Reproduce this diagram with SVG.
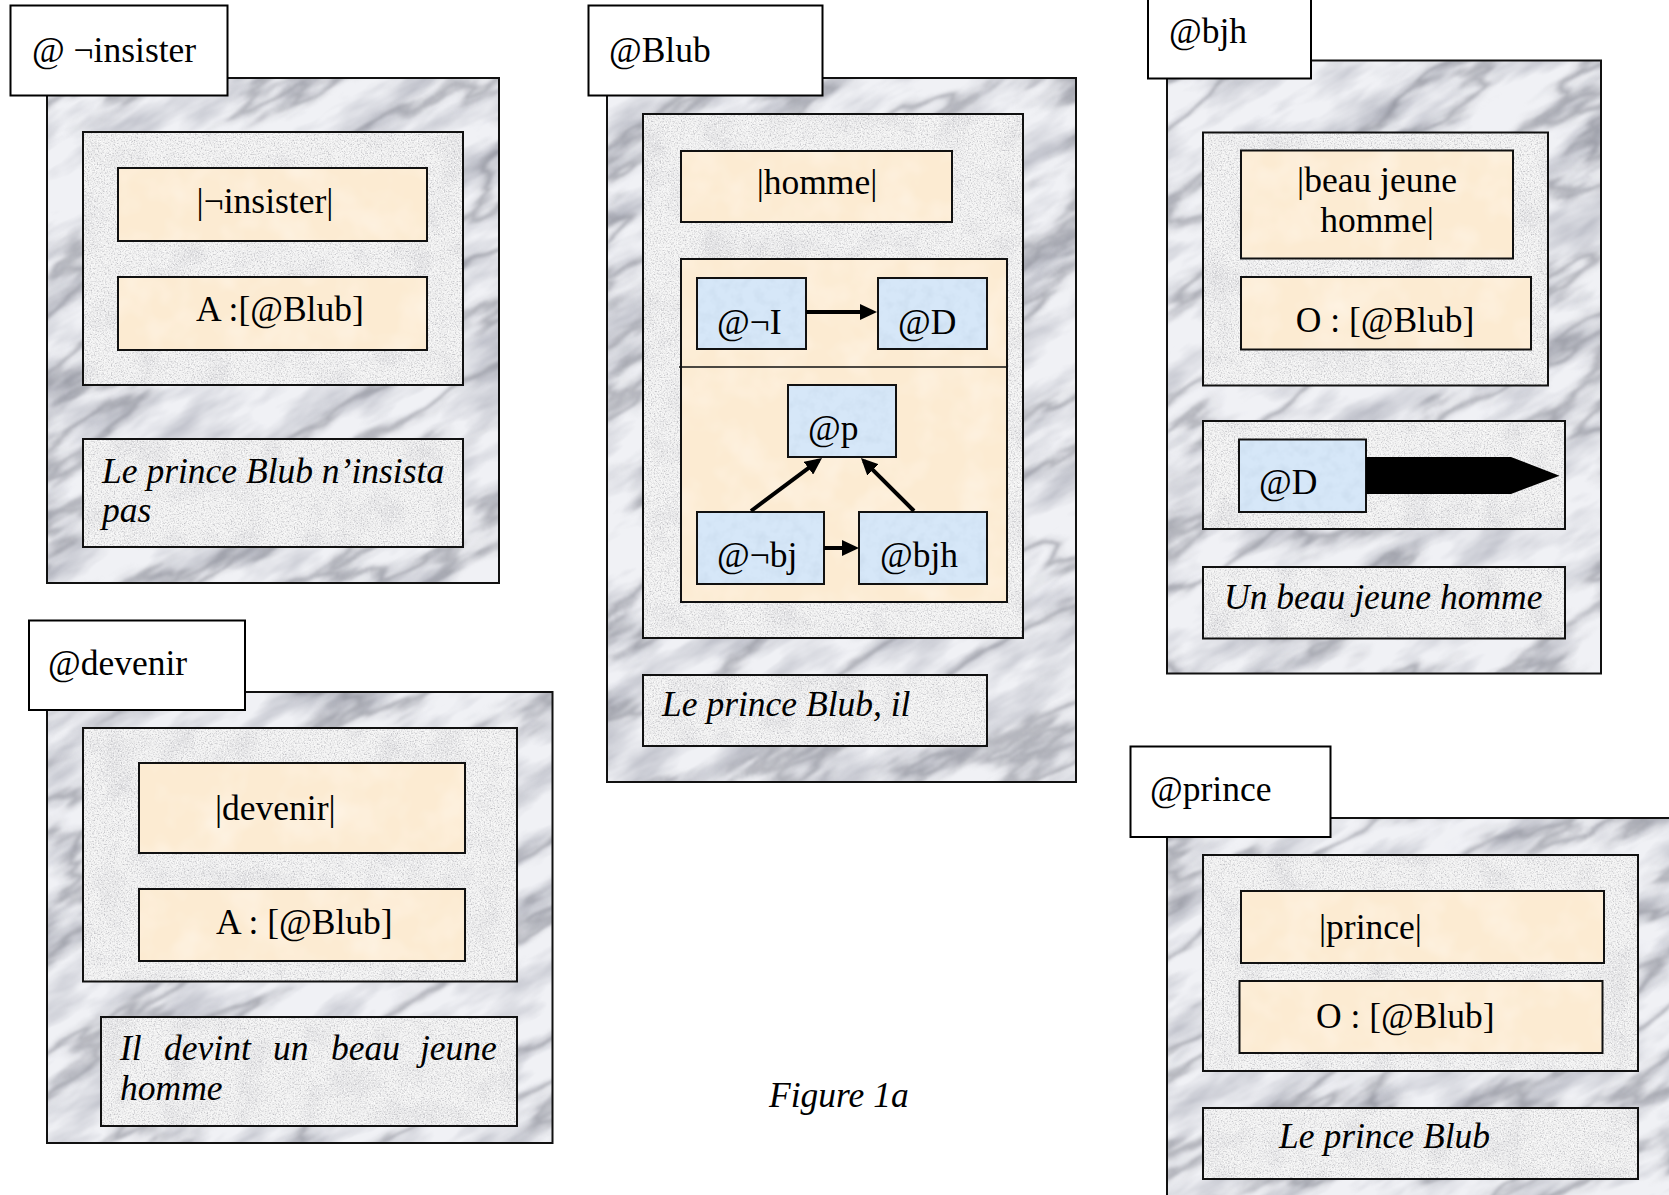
<svg xmlns="http://www.w3.org/2000/svg" width="1669" height="1195" viewBox="0 0 1669 1195">
  <defs>
    <style>
      text { font-family: "Liberation Serif", "Times New Roman", serif; font-size: 35.5px; fill: #000; }
      .it { font-style: italic; }
      .mid { text-anchor: middle; }
      .lbl { fill: #fff; stroke: #000; stroke-width: 2; }
      .marble { fill: url(#pMarble); stroke: #111; stroke-width: 2; }
      .speck { fill: url(#pSpeck); stroke: #111; stroke-width: 2; }
      .peach { fill: url(#pPeach); stroke: #111; stroke-width: 2; }
      .blue { fill: url(#pBlue); stroke: #111; stroke-width: 2; }
      .link { fill: none; stroke: #000; stroke-width: 4; marker-end: url(#head); }
    </style>

    <!-- pale grey marble: soft clouds and faint veins -->
    <filter id="fMarble" x="0" y="0" width="1" height="1" color-interpolation-filters="sRGB">
      <feFlood flood-color="#f0f1f5" result="base"/>
      <feTurbulence type="fractalNoise" baseFrequency="0.01 0.03" numOctaves="4" seed="5" result="c"/>
      <feColorMatrix in="c" type="matrix" values="0 0 0 0 0.62  0 0 0 0 0.63  0 0 0 0 0.68  1.4 0 0 0 -0.58" result="clouds"/>
      <feTurbulence type="fractalNoise" baseFrequency="0.004 0.014" numOctaves="5" seed="21" result="v"/>
      <feColorMatrix in="v" type="matrix" values="0 0 0 0 0.45  0 0 0 0 0.46  0 0 0 0 0.5  1 0 0 0 0" result="va"/>
      <feComponentTransfer in="va" result="veins">
        <feFuncA type="table" tableValues="0 0 0 0 0 0 0 0 0.1 0.5 0.1 0 0 0 0 0 0 0 0 0 0"/>
      </feComponentTransfer>
      <feGaussianBlur in="veins" stdDeviation="1.3" result="vb"/>
      <feMerge>
        <feMergeNode in="base"/>
        <feMergeNode in="clouds"/>
        <feMergeNode in="vb"/>
      </feMerge>
    </filter>

    <!-- light granite speckle -->
    <filter id="fSpeck" x="0" y="0" width="1" height="1" color-interpolation-filters="sRGB">
      <feFlood flood-color="#f2f2f2" result="base"/>
      <feTurbulence type="fractalNoise" baseFrequency="0.7" numOctaves="2" seed="8" result="n"/>
      <feColorMatrix in="n" type="matrix" values="0 0 0 0 0.72  0 0 0 0 0.72  0 0 0 0 0.74  2.2 0 0 0 -1.02" result="dark"/>
      <feColorMatrix in="n" type="matrix" values="0 0 0 0 1  0 0 0 0 1  0 0 0 0 1  0 -3 0 0 1.5" result="light"/>
      <feTurbulence type="fractalNoise" baseFrequency="0.03" numOctaves="2" seed="3" result="m"/>
      <feColorMatrix in="m" type="matrix" values="0 0 0 0 0.8  0 0 0 0 0.8  0 0 0 0 0.82  1 0 0 0 -0.47" result="mott"/>
      <feMerge>
        <feMergeNode in="base"/>
        <feMergeNode in="mott"/>
        <feMergeNode in="dark"/>
        <feMergeNode in="light"/>
      </feMerge>
    </filter>

    <!-- warm paper tint -->
    <filter id="fPeach" x="0" y="0" width="1" height="1" color-interpolation-filters="sRGB">
      <feFlood flood-color="#fcebd2" result="base"/>
      <feTurbulence type="fractalNoise" baseFrequency="0.025" numOctaves="3" seed="14" result="n"/>
      <feColorMatrix in="n" type="matrix" values="0 0 0 0 1  0 0 0 0 0.97  0 0 0 0 0.93  1.2 0 0 0 -0.5" result="spots"/>
      <feMerge>
        <feMergeNode in="base"/>
        <feMergeNode in="spots"/>
      </feMerge>
    </filter>

    <!-- pale blue tint -->
    <filter id="fBlue" x="0" y="0" width="1" height="1" color-interpolation-filters="sRGB">
      <feFlood flood-color="#d6e7f8" result="base"/>
      <feTurbulence type="fractalNoise" baseFrequency="0.09" numOctaves="3" seed="2" result="n"/>
      <feColorMatrix in="n" type="matrix" values="0 0 0 0 0.78  0 0 0 0 0.85  0 0 0 0 0.92  1.2 0 0 0 -0.5" result="spots"/>
      <feMerge>
        <feMergeNode in="base"/>
        <feMergeNode in="spots"/>
      </feMerge>
    </filter>

    <pattern id="pMarble" patternUnits="userSpaceOnUse" x="-600" y="0" width="2060" height="1880" patternTransform="rotate(-30)">
      <rect x="0" y="0" width="2060" height="1880" filter="url(#fMarble)"/>
    </pattern>
    <pattern id="pSpeck" patternUnits="userSpaceOnUse" x="0" y="0" width="1669" height="1195">
      <rect x="0" y="0" width="1669" height="1195" filter="url(#fSpeck)"/>
    </pattern>
    <pattern id="pPeach" patternUnits="userSpaceOnUse" x="0" y="0" width="1669" height="1195">
      <rect x="0" y="0" width="1669" height="1195" filter="url(#fPeach)"/>
    </pattern>
    <pattern id="pBlue" patternUnits="userSpaceOnUse" x="0" y="0" width="1669" height="1195">
      <rect x="0" y="0" width="1669" height="1195" filter="url(#fBlue)"/>
    </pattern>

    <marker id="head" markerUnits="userSpaceOnUse" markerWidth="18" markerHeight="16" refX="13" refY="8" orient="auto">
      <path d="M0,0 L17,8 L0,16 z" fill="#000"/>
    </marker>
  </defs>

  <rect width="1669" height="1195" fill="#fff"/>

  <!-- @ ¬insister -->
  <g id="node-insister">
    <rect class="marble" x="47" y="78" width="452" height="505"/>
    <rect class="speck" x="83" y="132" width="380" height="253"/>
    <rect class="peach" x="118" y="168" width="309" height="73"/>
    <text class="mid" x="265" y="213">|¬insister|</text>
    <rect class="peach" x="118" y="277" width="309" height="73"/>
    <text x="196" y="321">A :[@Blub]</text>
    <rect class="speck" x="83" y="439" width="380" height="108"/>
    <text class="it" x="102" y="483">Le prince Blub n’insista</text>
    <text class="it" x="102" y="522">pas</text>
    <rect class="lbl" x="10.5" y="5.5" width="217" height="90"/>
    <text x="32" y="62">@ ¬insister</text>
  </g>

  <!-- @Blub -->
  <g id="node-blub">
    <rect class="marble" x="607" y="78" width="469" height="704"/>
    <rect class="speck" x="643" y="114" width="380" height="524"/>
    <rect class="peach" x="681" y="151" width="271" height="71"/>
    <text class="mid" x="817" y="194">|homme|</text>
    <rect class="peach" x="681" y="259" width="326" height="343"/>
    <line x1="679" y1="367" x2="1007" y2="367" stroke="#111" stroke-width="1.5"/>
    <rect class="speck" x="643" y="675" width="344" height="71"/>
    <text class="it" x="662" y="716">Le prince Blub, il</text>
    <rect class="lbl" x="588.5" y="5.5" width="234" height="90"/>
    <text x="609" y="62">@Blub</text>
  </g>

  <g id="node-blub-negI">
    <rect class="blue" x="697" y="278" width="109" height="71"/>
    <text x="717" y="334">@¬I</text>
  </g>
  <g id="node-blub-D">
    <rect class="blue" x="878" y="278" width="109" height="71"/>
    <text x="898" y="334">@D</text>
  </g>
  <g id="node-blub-p">
    <rect class="blue" x="788" y="385" width="108" height="72"/>
    <text x="808" y="440">@p</text>
  </g>
  <g id="node-blub-negbj">
    <rect class="blue" x="697" y="512" width="127" height="72"/>
    <text x="717" y="567">@¬bj</text>
  </g>
  <g id="node-blub-bjh">
    <rect class="blue" x="859" y="512" width="128" height="72"/>
    <text x="880" y="567">@bjh</text>
  </g>

  <!-- @bjh -->
  <g id="node-bjh">
    <rect class="marble" x="1167" y="60.5" width="434" height="613"/>
    <rect class="speck" x="1203" y="132.5" width="345" height="253"/>
    <rect class="peach" x="1241" y="150.5" width="272" height="108"/>
    <text class="mid" x="1377" y="192">|beau jeune</text>
    <text class="mid" x="1377" y="232">homme|</text>
    <rect class="peach" x="1241" y="277" width="290" height="72.5"/>
    <text class="mid" x="1385" y="332">O : [@Blub]</text>
    <rect class="speck" x="1203" y="421" width="362" height="108"/>
    <rect class="blue" x="1239" y="439.5" width="127" height="72.5"/>
    <text x="1259" y="494">@D</text>
    <polygon points="1366,457 1511,457 1559.5,475.7 1511,494 1366,494" fill="#000"/>
    <rect class="speck" x="1203" y="567" width="362" height="71.5"/>
    <text class="it" x="1224" y="609">Un beau jeune homme</text>
    <rect class="lbl" x="1148" y="-5" width="163" height="83.5"/>
    <text x="1169" y="43">@bjh</text>
  </g>

  <!-- @devenir -->
  <g id="node-devenir">
    <rect class="marble" x="47" y="692" width="505.5" height="451"/>
    <rect class="speck" x="83" y="728" width="434" height="253.5"/>
    <rect class="peach" x="139" y="763" width="326" height="90"/>
    <text x="215" y="820">|devenir|</text>
    <rect class="peach" x="139" y="889" width="326" height="72"/>
    <text x="216" y="934">A : [@Blub]</text>
    <rect class="speck" x="101" y="1017" width="416" height="109"/>
    <text class="it" y="1060"><tspan x="120">Il</tspan><tspan x="164">devint</tspan><tspan x="273">un</tspan><tspan x="331">beau</tspan><tspan x="420">jeune</tspan></text>
    <text class="it" x="120" y="1100">homme</text>
    <rect class="lbl" x="29" y="620.5" width="216" height="89.5"/>
    <text x="48" y="675">@devenir</text>
  </g>

  <!-- @prince -->
  <g id="node-prince">
    <rect class="marble" x="1167" y="818" width="520" height="400"/>
    <rect class="speck" x="1203" y="855" width="435" height="216"/>
    <rect class="peach" x="1241" y="891" width="363" height="72"/>
    <text x="1319" y="939">|prince|</text>
    <rect class="peach" x="1239.5" y="981" width="363" height="72"/>
    <text x="1316" y="1028">O : [@Blub]</text>
    <rect class="speck" x="1203" y="1108" width="435" height="71"/>
    <text class="it" x="1279" y="1148">Le prince Blub</text>
    <rect class="lbl" x="1130.5" y="746.5" width="200" height="90.5"/>
    <text x="1150" y="801">@prince</text>
  </g>

  <!-- links inside @Blub -->
  <g id="connectors">
    <line class="link" x1="806" y1="312" x2="873" y2="312"/>
    <line class="link" x1="824" y1="548" x2="855" y2="548"/>
    <line class="link" x1="751" y1="511" x2="818.8" y2="460.4"/>
    <line class="link" x1="914" y1="511" x2="863.8" y2="460.8"/>
  </g>

  <text class="it" x="769" y="1107">Figure 1a</text>
</svg>
